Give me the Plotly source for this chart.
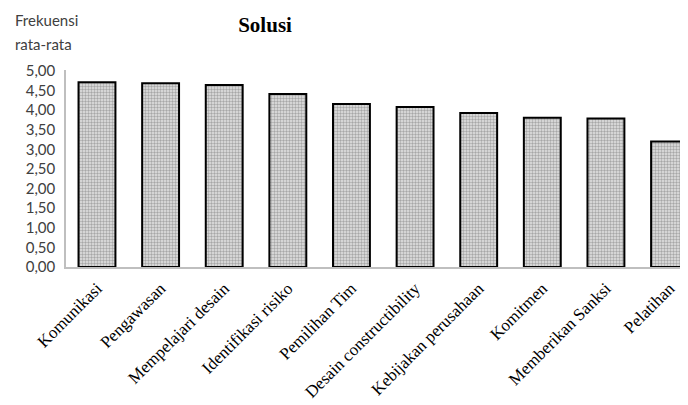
import plotly.graph_objects as go

categories = ["Komunikasi", "Pengawasan", "Mempelajari desain", "Identifikasi risiko",
              "Pemilihan Tim", "Desain constructibility", "Kebijakan perusahaan",
              "Komitmen", "Memberikan Sanksi", "Pelatihan"]
values = [4.71, 4.69, 4.64, 4.41, 4.16, 4.08, 3.93, 3.81, 3.79, 3.20]
tick_vals = [0, 0.5, 1, 1.5, 2, 2.5, 3, 3.5, 4, 4.5, 5]
tick_text = ["0,00", "0,50", "1,00", "1,50", "2,00", "2,50", "3,00", "3,50", "4,00", "4,50", "5,00"]

sans = "Lato, Liberation Sans, sans-serif"
serif = "Liberation Serif, Times New Roman, serif"

fig = go.Figure()
fig.add_trace(go.Bar(
    x=list(range(len(categories))), y=values, width=0.58,
    marker=dict(color="#e6e6e6",
                line=dict(color="black", width=2),
                pattern=dict(shape=".", fgcolor="#6a6a6a", bgcolor="#e4e4e4", size=3, solidity=0.5)),
))

fig.update_layout(
    width=680, height=397,
    margin=dict(l=58, r=0, t=62, b=138, autoexpand=False),
    plot_bgcolor="white", paper_bgcolor="white",
    showlegend=False,
    title=dict(text="<b>Solusi</b>", x=0.378, xanchor="center", y=0.957, yanchor="middle",
               font=dict(family=serif, size=21, color="black")),
    xaxis=dict(range=[-0.487, 9.29], tickmode="array", tickvals=list(range(len(categories))),
               ticktext=categories, tickangle=-45, showgrid=False, zeroline=False,
               showline=True, linecolor="#bfbfbf", linewidth=1.5, ticks="",
               ticklabelstandoff=3,
               tickfont=dict(family=serif, size=17, color="black")),
    yaxis=dict(range=[0, 5.025], tickmode="array", tickvals=tick_vals, ticktext=tick_text,
               showgrid=False, zeroline=False, showline=True, linecolor="#bfbfbf", linewidth=1.5,
               ticks="", ticklabelstandoff=6,
               tickfont=dict(family=sans, size=15, color="#404040")),
    annotations=[
        dict(text="Frekuensi", x=-0.0852, y=(259 - 12) / 197, xref="paper", yref="paper",
             showarrow=False, xanchor="left", yanchor="middle",
             font=dict(family=sans, size=15, color="#404040")),
        dict(text="rata-rata", x=-0.0852, y=(259 - 36) / 197, xref="paper", yref="paper",
             showarrow=False, xanchor="left", yanchor="middle",
             font=dict(family=sans, size=15, color="#404040")),
    ],
)

fig.write_html("out.html")
